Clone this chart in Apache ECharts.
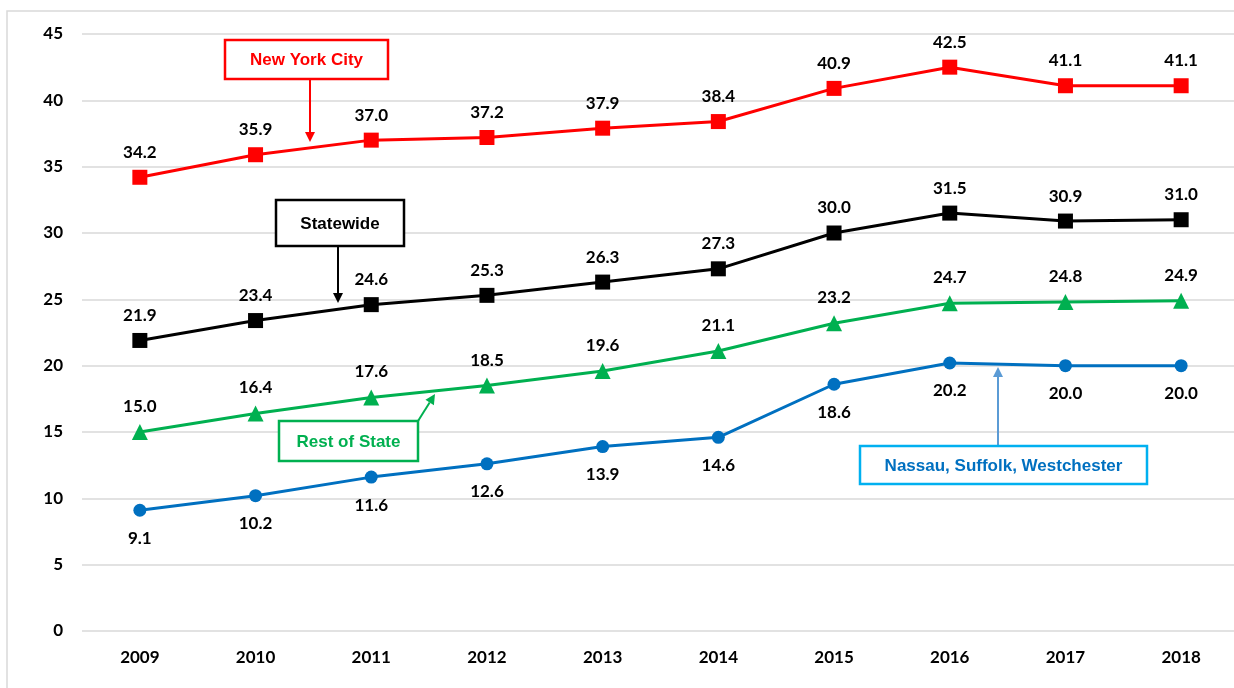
<!DOCTYPE html>
<html><head><meta charset="utf-8">
<script src="https://cdn.jsdelivr.net/npm/echarts@6/dist/echarts.min.js"></script>
<style>html,body{margin:0;padding:0;background:#fff;overflow:hidden}#c{width:1240px;height:688px}</style>
</head><body><div id="c"></div>
<script>
const years = ['2009','2010','2011','2012','2013','2014','2015','2016','2017','2018'];
const yTicks = [0,5,10,15,20,25,30,35,40,45];
const nyc = [34.2,35.9,37.0,37.2,37.9,38.4,40.9,42.5,41.1,41.1];
const statewide = [21.9,23.4,24.6,25.3,26.3,27.3,30.0,31.5,30.9,31.0];
const restOfState = [15.0,16.4,17.6,18.5,19.6,21.1,23.2,24.7,24.8,24.9];
const nsw = [9.1,10.2,11.6,12.6,13.9,14.6,18.6,20.2,20.0,20.0];

const FONT = 'Lato';
const ANN = '"Liberation Sans", Arial, sans-serif';

function lbl(pos){
  return {show:true, position:pos, distance:pos==='bottom'?13:9, color:'#000', fontFamily:FONT, fontWeight:'bold', fontSize:17,
    formatter:p=>Number(p.value).toFixed(1)};
}
function ser(name,data,color,symbol,size,pos){
  return {name, type:'line', data, symbol, symbolSize:size, showSymbol:true,
    lineStyle:{color, width:3}, itemStyle:{color}, label:lbl(pos), z:3, animation:false};
}
function box(x,y,w,h,stroke,text,textColor){
  return [{type:'rect', shape:{x,y,width:w,height:h}, style:{fill:'#fff', stroke, lineWidth:2.5}, z:10},
    {type:'text', x:x+w/2, y:y+h/2+1, style:{text, fill:textColor, font:'bold 17px '+ANN, align:'center', verticalAlign:'middle'}, z:11}];
}
function arrow(x1,y1,x2,y2,color,w){
  const a=Math.atan2(y2-y1,x2-x1), L=10, W=5;
  const bx=x2-L*Math.cos(a), by=y2-L*Math.sin(a);
  const px=-Math.sin(a)*W, py=Math.cos(a)*W;
  return [{type:'line', shape:{x1,y1,x2:bx,y2:by}, style:{stroke:color, lineWidth:w}, z:10},
    {type:'polygon', shape:{points:[[x2,y2],[bx+px,by+py],[bx-px,by-py]]}, style:{fill:color}, z:10}];
}

const chart = echarts.init(document.getElementById('c'));
chart.setOption({
  animation:false,
  backgroundColor:'#fff',
  grid:{left:82, right:1, top:34, bottom:57, containLabel:false},
  xAxis:{type:'category', data:years, boundaryGap:true,
    axisLine:{show:false}, axisTick:{show:false},
    axisLabel:{color:'#000', fontFamily:FONT, fontWeight:'bold', fontSize:17, margin:18}},
  yAxis:{type:'value', min:yTicks[0], max:yTicks[yTicks.length-1], interval:5,
    axisLine:{show:false}, axisTick:{show:false},
    axisLabel:{color:'#000', fontFamily:FONT, fontWeight:'bold', fontSize:17, margin:19},
    splitLine:{lineStyle:{color:'#D9D9D9', width:1.5}}},
  series:[
    ser('New York City', nyc, '#FF0000', 'rect', 15, 'top'),
    ser('Statewide', statewide, '#000000', 'rect', 15, 'top'),
    ser('Rest of State', restOfState, '#00B050', 'triangle', 16, 'top'),
    ser('Nassau, Suffolk, Westchester', nsw, '#0070C0', 'circle', 13, 'bottom')
  ],
  graphic:[
    {type:'rect', shape:{x:7, y:11, width:1300, height:800}, style:{fill:'none', stroke:'#D9D9D9', lineWidth:1.5}, z:0, silent:true},
    ...arrow(310,79,310,142,'#FF0000',2),
    ...box(225,40,163,39,'#FF0000','New York City','#FF0000'),
    ...arrow(338,246,338,303,'#000000',2),
    ...box(276,200,128,46,'#000000','Statewide','#000000'),
    ...arrow(418,421,435,394,'#00B050',2),
    ...box(279,421,139,40,'#00B050','Rest of State','#00B050'),
    ...arrow(998,446,998,367,'#5B9BD5',2),
    ...box(860,446,287,38,'#00B0F0','Nassau, Suffolk, Westchester','#0070C0')
  ]
});
</script></body></html>
